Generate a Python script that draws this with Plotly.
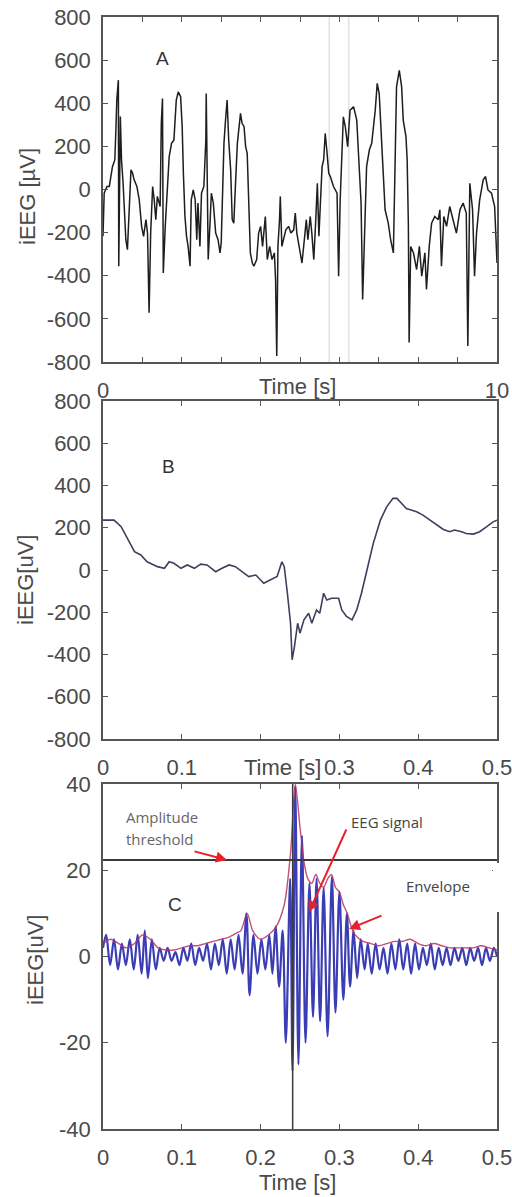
import plotly.graph_objects as go

# ---------------- data ----------------
# Panel A : 10 s raw iEEG trace (uV)
A_t = [0.00,0.03,0.10,0.16,0.24,0.30,0.33,0.35,0.39,0.40,
       0.44,0.47,0.51,0.54,0.58,0.62,0.67,0.71,0.75,0.79,
       0.86,0.92,0.98,1.03,1.09,1.13,1.17,1.21,1.26,1.30,
       1.34,1.38,1.45,1.48,1.51,1.53,1.58,1.62,1.68,1.74,
       1.80,1.86,1.91,1.97,2.01,2.04,2.08,2.12,2.16,2.21,
       2.24,2.29,2.34,2.38,2.41,2.46,2.50,2.56,2.61,2.62,
       2.65,2.67,2.72,2.75,2.80,2.86,2.92,2.97,3.00,3.07,
       3.11,3.15,3.19,3.24,3.28,3.32,3.36,3.41,3.49,3.53,
       3.58,3.62,3.66,3.70,3.74,3.79,3.83,3.90,3.95,4.00,
       4.05,4.12,4.17,4.23,4.29,4.35,4.38,4.41,4.44,4.48,
       4.50,4.54,4.59,4.64,4.71,4.77,4.84,4.88,4.92,4.98,
       5.05,5.11,5.16,5.20,5.26,5.30,5.35,5.40,5.44,5.48,
       5.51,5.56,5.60,5.64,5.68,5.73,5.77,5.85,5.94,5.98,
       6.02,6.06,6.10,6.15,6.21,6.27,6.36,6.44,6.51,6.55,
       6.59,6.63,6.69,6.76,6.82,6.91,6.96,7.01,7.05,7.10,
       7.16,7.24,7.30,7.37,7.41,7.45,7.52,7.58,7.62,7.69,
       7.72,7.75,7.77,7.81,7.88,7.96,8.03,8.09,8.17,8.21,
       8.28,8.34,8.42,8.51,8.55,8.59,8.65,8.72,8.80,8.89,
       8.97,9.06,9.14,9.22,9.24,9.26,9.31,9.38,9.43,9.48,
       9.56,9.65,9.71,9.77,9.86,9.94,10.0]
A_v = [-217,-17,14,14,106,137,291,415,507,-356,
       338,137,29,-109,-233,-279,-79,91,76,45,
       14,-48,-171,-217,-140,-202,-572,-202,14,-48,
       -140,-32,-79,307,422,-387,-171,-17,153,214,
       230,415,453,430,291,75,-125,-217,-264,-356,
       -48,-2,-48,-233,-63,-264,-17,14,230,445,
       -17,-325,-140,-17,-63,-202,-233,-294,-248,214,
       322,415,230,91,-140,-156,14,214,353,307,
       291,199,168,-63,-294,-341,-356,-325,-202,-171,
       -264,-125,-325,-264,-325,-294,-418,-772,-264,-140,
       -32,-264,-217,-187,-171,-202,-187,-109,-202,-264,
       -341,-233,-140,-233,-125,-202,-325,-140,29,-217,
       -79,106,137,260,183,75,60,14,-17,-402,
       -48,153,337,291,199,368,384,322,60,-63,
       -510,-233,106,183,214,368,492,445,307,153,
       -94,-156,-233,-294,60,476,553,476,322,244,
       137,-156,-710,-264,-294,-371,-264,-402,-294,-463,
       -264,-156,-125,-140,-94,-356,-125,-171,-79,-140,
       -202,-94,-63,-109,-325,-726,29,-94,-402,-202,
       -48,45,60,-2,-17,-79,-341]
A_marks = [5.74, 6.24]          # faint vertical markers in panel A

# Panel B : 0.5 s zoom of the discharge (uV)
B_t = [0,0.014,0.023,0.031,0.040,0.048,0.056,0.069,0.078,0.084,
       0.090,0.099,0.107,0.116,0.124,0.132,0.143,0.151,0.160,0.168,
       0.177,0.185,0.194,0.204,0.212,0.221,0.227,0.230,0.234,0.238,
       0.240,0.243,0.247,0.250,0.255,0.261,0.265,0.271,0.275,0.280,
       0.284,0.290,0.299,0.303,0.309,0.316,0.322,0.328,0.335,0.343,
       0.352,0.360,0.368,0.373,0.379,0.385,0.392,0.398,0.406,0.415,
       0.423,0.432,0.440,0.446,0.455,0.461,0.470,0.478,0.487,0.495,0.500]
B_v = [236,236,205,150,87,71,39,16,8,39,
       32,8,24,8,28,24,-8,8,24,16,
       -8,-31,-24,-63,-47,-31,39,16,-110,-252,
       -425,-362,-252,-299,-236,-205,-252,-189,-205,-110,
       -142,-134,-134,-189,-220,-236,-189,-110,0,126,
       236,299,339,339,315,291,283,276,260,236,
       213,192,181,189,181,173,170,181,205,228,236]

# Panel C : band-passed signal and its envelope (uV)
C_t = [0.000,0.004,0.009,0.014,0.019,0.024,0.029,0.034,0.039,0.044,
       0.049,0.053,0.057,0.062,0.067,0.072,0.077,0.082,0.087,0.092,
       0.097,0.102,0.107,0.112,0.117,0.122,0.127,0.132,0.137,0.142,
       0.147,0.152,0.157,0.162,0.167,0.172,0.177,0.182,0.186,0.191,
       0.196,0.201,0.206,0.211,0.215,0.219,0.2235,0.228,0.232,0.2375,
       0.2405,0.244,0.248,0.2525,0.257,0.262,0.2665,0.271,0.2755,0.280,
       0.285,0.2905,0.295,0.300,0.305,0.3095,0.3135,0.318,0.3225,0.327,
       0.332,0.336,0.341,0.346,0.351,0.356,0.361,0.366,0.371,0.376,
       0.381,0.386,0.391,0.396,0.401,0.406,0.411,0.416,0.421,0.426,
       0.431,0.436,0.441,0.446,0.451,0.456,0.461,0.466,0.471,0.476,
       0.481,0.486,0.491,0.496,0.500]
C_v = [2,5,-2,4,-3,3,-2,4,-3,5,
       -4,6,-5,4,-3,2,-1,2,-1,1,
       -2,2,-1,3,-2,2,-1,3,-3,3,
       -2,4,-4,4,-3,5,-4,10,-9,5,
       -4,4,-3,5,-4,7,-7,6,-20,18,
       -26.6,39.5,-25,28,-20,17,-14,18,-15,16,
       -18.5,18.5,-13,15,-10,10,-7,6,-5,4,
       -3,3,-4,3,-3,2,-4,3,-3,4,
       -3,3,-4,3,-3,2,-2,3,-3,2,
       -2,2,-2,2,-1,2,-2,2,-1,2,
       -2,2,-1,2,0]
E_t = [0,0.01,0.02,0.03,0.04,0.05,0.06,0.07,0.08,0.09,
       0.10,0.11,0.12,0.13,0.14,0.15,0.16,0.17,0.175,0.183,
       0.19,0.20,0.21,0.22,0.23,0.238,0.244,0.25,0.255,0.26,
       0.265,0.27,0.275,0.28,0.285,0.29,0.295,0.30,0.305,0.31,
       0.315,0.32,0.33,0.34,0.35,0.36,0.37,0.38,0.39,0.40,
       0.41,0.42,0.43,0.44,0.45,0.46,0.47,0.48,0.49,0.50]
E_v = [3,4,3,2,3,5,4,2,1.5,1.5,
       2,2.5,2.5,3,3.5,4,4.5,5.5,6,10,
       6,4,5,7,12,24,40,30,22,18,
       17,19,17,16,18,19,16,15,12,10,
       7,5,3.5,3,2.5,3,3.5,3.5,4,3,
       2.5,3,2.5,2,2,2,2,2.5,2,1.5]
threshold = 22.4
event_t = 0.2407

A_yticks = [-800,-600,-400,-200,0,200,400,600,800]
A_ytext = ["-800","-600","-400","-200","0","200","400","600","800"]
C_yticks = [-40,-20,0,20,40]
C_ytext = ["-40","-20","0","20","40"]
A_xticks = list(range(11))
A_xtext = ["0"] + [""] * 9 + ["10"]
B_xticks = [0, 0.1, 0.2, 0.3, 0.4, 0.5]
B_xtext = ["0", "0.1", "", "0.3", "0.4", "0.5"]
C_xtext = ["0", "0.1", "0.2", "0.3", "0.4", "0.5"]

# ---------------- figure ----------------
W, H = 512, 1197
def fx(p): return p / W
def fy(p): return 1 - p / H

TICKFONT = dict(family="Liberation Sans, Arial, sans-serif", size=22, color="#4a4a4a")
XD = [fx(103), fx(497)]

def axis(**kw):
    d = dict(showline=True, linecolor="#555", linewidth=1.5, mirror="ticks",
             ticks="inside", ticklen=5, tickwidth=1.2, tickcolor="#555",
             showgrid=False, zeroline=False, tickfont=TICKFONT, fixedrange=True,
             automargin=False, ticklabeloverflow="allow")
    d.update(kw)
    return d

fig = go.Figure()
fig.add_trace(go.Scatter(x=A_t, y=A_v, mode="lines", xaxis="x", yaxis="y",
                         line=dict(color="#1e1e1e", width=1.5), showlegend=False))
fig.add_trace(go.Scatter(x=B_t, y=B_v, mode="lines", xaxis="x2", yaxis="y2",
                         line=dict(color="#3d3f5e", width=1.6), showlegend=False))
fig.add_trace(go.Scatter(x=C_t, y=C_v, mode="lines", xaxis="x3", yaxis="y3",
                         line=dict(color="#3b3db4", width=2.2, shape="spline", smoothing=0.9),
                         showlegend=False))
fig.add_trace(go.Scatter(x=E_t, y=E_v, mode="lines", xaxis="x3", yaxis="y3",
                         line=dict(color="rgba(180,50,100,0.85)", width=1.4, shape="spline", smoothing=0.8),
                         showlegend=False))

fig.update_layout(
    template="none",
    width=W, height=H, margin=dict(l=0, r=0, t=0, b=0, pad=0), autosize=False,
    paper_bgcolor="white", plot_bgcolor="white",
    xaxis=axis(domain=XD, anchor="y", range=[0, 10], tickvals=A_xticks, ticktext=A_xtext,
               ticklabelstandoff=8),
    yaxis=axis(domain=[fy(362), fy(17)], anchor="x", range=[-800, 800], tickvals=A_yticks,
               ticktext=A_ytext, ticklabelstandoff=6),
    xaxis2=axis(domain=XD, anchor="y2", range=[0, 0.5], tickvals=B_xticks, ticktext=B_xtext,
                ticklabelstandoff=8),
    yaxis2=axis(domain=[fy(739), fy(401)], anchor="x2", range=[-800, 800], tickvals=A_yticks,
                ticktext=A_ytext, ticklabelstandoff=6),
    xaxis3=axis(domain=XD, anchor="y3", range=[0, 0.5], tickvals=B_xticks, ticktext=C_xtext,
                ticklabelstandoff=8),
    yaxis3=axis(domain=[fy(1129), fy(784)], anchor="x3", range=[-40, 40], tickvals=C_yticks,
                ticktext=C_ytext, ticklabelstandoff=6),
)

shapes = []
for t in A_marks:
    shapes.append(dict(type="line", xref="x", yref="y", x0=t, x1=t, y0=-800, y1=800,
                       line=dict(color="#d4d4d4", width=1), layer="below"))
shapes.append(dict(type="line", xref="x3", yref="y3", x0=0, x1=0.5, y0=threshold, y1=threshold,
                   line=dict(color="#3a3a3a", width=2)))
shapes.append(dict(type="line", xref="x3", yref="y3", x0=event_t, x1=event_t, y0=-40, y1=40,
                   line=dict(color="#3a3a3a", width=1.5)))
# gap in the right frame of panel C behind the "Envelope" label
shapes.append(dict(type="rect", xref="paper", yref="paper", x0=fx(493), x1=fx(501),
                   y0=fy(912), y1=fy(863), fillcolor="white", line=dict(width=0), layer="above"))
fig.update_layout(shapes=shapes)

LBL = dict(family="Liberation Sans, Arial, sans-serif", size=22, color="#4a4a4a")
NOTE = dict(family="Open Sans, Lato, sans-serif", size=15, color="#555")
ann = []
def text(x, y, s, font, angle=0, xanchor="center"):
    ann.append(dict(x=fx(x), y=fy(y), xref="paper", yref="paper", text=s, showarrow=False,
                    font=font, textangle=angle, xanchor=xanchor, yanchor="middle"))

text(297, 387, "Time [s]", LBL)
text(282, 767, "Time [s]", LBL)
text(297, 1182, "Time [s]", LBL)
text(27, 197, "iEEG [µV]", LBL, angle=-90)
text(25, 580, "iEEG[uV]", LBL, angle=-90)
text(35, 960, "iEEG[uV]", LBL, angle=-90)
LET = dict(family="Liberation Sans, Arial, sans-serif", size=19, color="#333")
text(162, 58, "A", LET)
text(168, 467, "B", LET)
text(175, 904, "C", LET)
text(124, 817, "Amplitude", dict(NOTE, color="#666"), xanchor="left")
text(124, 839, "threshold", dict(NOTE, color="#666"), xanchor="left")
text(349, 822, "EEG signal", dict(NOTE, color="#444"), xanchor="left")
text(404, 886, "Envelope", dict(NOTE, color="#444"), xanchor="left")

def arrow(tip, tail):
    ann.append(dict(x=fx(tip[0]), y=fy(tip[1]), xref="paper", yref="paper", text="",
                    showarrow=True, ax=tail[0] - tip[0], ay=tail[1] - tip[1],
                    arrowcolor="#e8202a", arrowwidth=2, arrowhead=2, arrowsize=1.1))

arrow((227, 860), (193, 851))
arrow((309, 912), (347, 828))
arrow((349, 929), (383, 915))
fig.update_layout(annotations=ann)

fig.write_html("out.html", config={"displayModeBar": False},
               post_script="document.body.style.margin='0';document.body.style.overflow='hidden';")
